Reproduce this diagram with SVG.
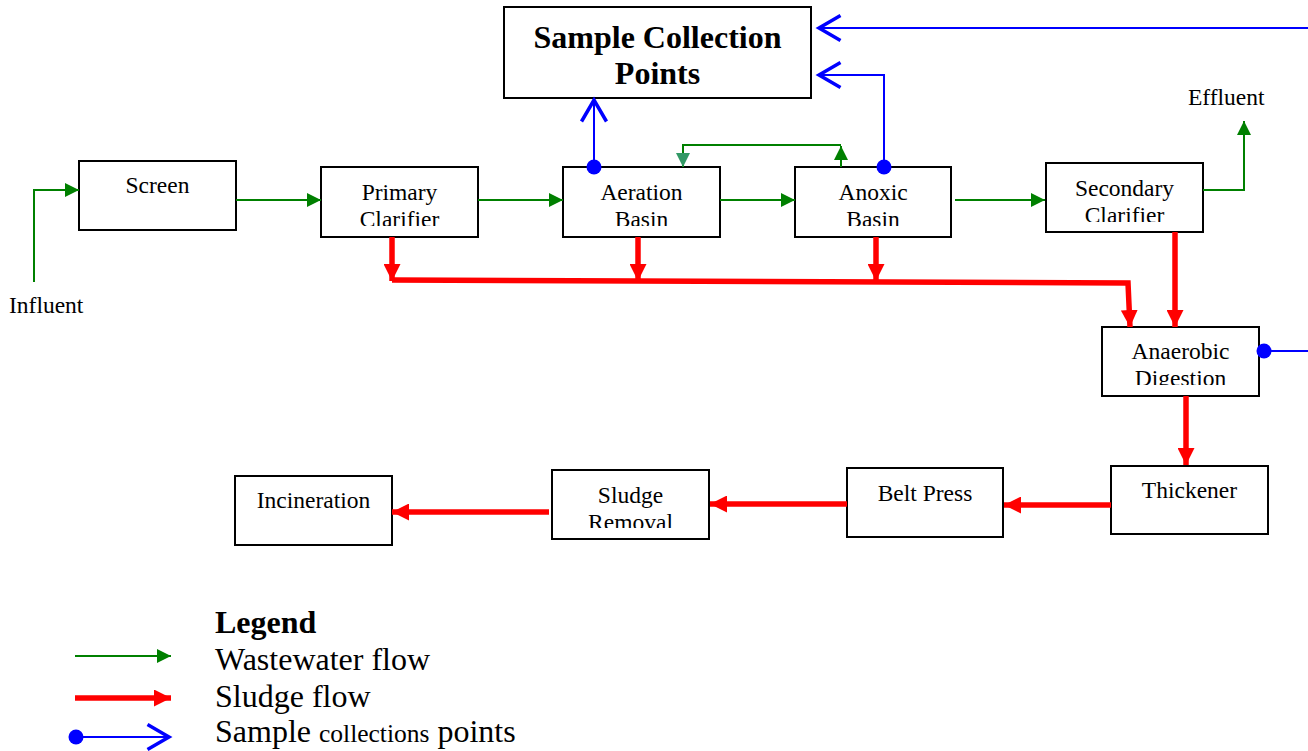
<svg xmlns="http://www.w3.org/2000/svg" width="1308" height="751" viewBox="0 0 1308 751">
  <style>
    .box { fill: #ffffff; stroke: #000000; stroke-width: 2; }
    .lbl { font-family: "Liberation Serif", "Times New Roman", serif; font-size: 23.5px; fill: #000000; text-anchor: middle; }
    .free { font-family: "Liberation Serif", "Times New Roman", serif; font-size: 23.5px; fill: #000000; }
    .title { font-family: "Liberation Serif", "Times New Roman", serif; font-size: 32px; font-weight: bold; fill: #000000; text-anchor: middle; }
    .leg { font-family: "Liberation Serif", "Times New Roman", serif; font-size: 32px; fill: #000000; }
    .water { fill: none; stroke: #008000; stroke-width: 2; }
    .sludge { fill: none; stroke: #ff0000; stroke-width: 5.5; }
    .sample { fill: none; stroke: #0000ff; stroke-width: 2; }
    .dot { fill: #0000ff; }
  </style>
  <defs>
    <marker id="wHead" viewBox="0 0 14 14" refX="14" refY="7" markerWidth="14" markerHeight="14" markerUnits="userSpaceOnUse" orient="auto">
      <path d="M0,0 L14,7 L0,14 Z" fill="#008000"/>
    </marker>
    <marker id="wHeadAlt" viewBox="0 0 14 14" refX="14" refY="7" markerWidth="14" markerHeight="14" markerUnits="userSpaceOnUse" orient="auto">
      <path d="M0,0 L14,7 L0,14 Z" fill="#339966"/>
    </marker>
    <marker id="sHead" viewBox="0 0 17 17" refX="17" refY="8.5" markerWidth="17" markerHeight="17" markerUnits="userSpaceOnUse" orient="auto">
      <path d="M0,0 L17,8.5 L0,17 Z" fill="#ff0000"/>
    </marker>
    <marker id="bHead" viewBox="0 0 26 28" refX="24" refY="14" markerWidth="26" markerHeight="28" markerUnits="userSpaceOnUse" orient="auto" overflow="visible">
      <path d="M1.5,1.5 L23,14 L1.5,26.5" fill="none" stroke="#0000ff" stroke-width="3.5" stroke-linejoin="miter" stroke-miterlimit="10"/>
    </marker>
    <clipPath id="clipPrimary"><rect x="321" y="167" width="157" height="59"/></clipPath>
    <clipPath id="clipAeration"><rect x="563" y="167" width="157" height="59"/></clipPath>
    <clipPath id="clipAnoxic"><rect x="795" y="167" width="156" height="59"/></clipPath>
    <clipPath id="clipSecondary"><rect x="1046" y="163" width="157" height="59"/></clipPath>
    <clipPath id="clipAnaerobic"><rect x="1102" y="327" width="157" height="58"/></clipPath>
    <clipPath id="clipRemoval"><rect x="552" y="470" width="157" height="58"/></clipPath>
  </defs>

  <!-- process units -->
  <g id="sample-points">
    <rect class="box" x="504" y="7" width="307" height="91"/>
    <text class="title" x="657.5" y="48">Sample Collection</text>
    <text class="title" x="657.5" y="84">Points</text>
  </g>
  <g id="screen">
    <rect class="box" x="79" y="161" width="157" height="69"/>
    <text class="lbl" x="157.5" y="193">Screen</text>
  </g>
  <g id="primary-clarifier">
    <rect class="box" x="321" y="167" width="157" height="70"/>
    <g clip-path="url(#clipPrimary)">
      <text class="lbl" x="399.5" y="200">Primary</text>
      <text class="lbl" x="399.5" y="227">Clarifier</text>
    </g>
  </g>
  <g id="aeration-basin">
    <rect class="box" x="563" y="167" width="157" height="70"/>
    <g clip-path="url(#clipAeration)">
      <text class="lbl" x="641.5" y="200">Aeration</text>
      <text class="lbl" x="641.5" y="227">Basin</text>
    </g>
  </g>
  <g id="anoxic-basin">
    <rect class="box" x="795" y="167" width="156" height="70"/>
    <g clip-path="url(#clipAnoxic)">
      <text class="lbl" x="873" y="200">Anoxic</text>
      <text class="lbl" x="873" y="227">Basin</text>
    </g>
  </g>
  <g id="secondary-clarifier">
    <rect class="box" x="1046" y="163" width="157" height="69"/>
    <g clip-path="url(#clipSecondary)">
      <text class="lbl" x="1124.5" y="196">Secondary</text>
      <text class="lbl" x="1124.5" y="223">Clarifier</text>
    </g>
  </g>
  <g id="anaerobic-digestion">
    <rect class="box" x="1102" y="327" width="157" height="69"/>
    <g clip-path="url(#clipAnaerobic)">
      <text class="lbl" x="1180.5" y="359">Anaerobic</text>
      <text class="lbl" x="1180.5" y="386">Digestion</text>
    </g>
  </g>
  <g id="thickener">
    <rect class="box" x="1111" y="466" width="157" height="68"/>
    <text class="lbl" x="1189.5" y="498">Thickener</text>
  </g>
  <g id="belt-press">
    <rect class="box" x="847" y="468" width="156" height="69"/>
    <text class="lbl" x="925" y="501">Belt Press</text>
  </g>
  <g id="sludge-removal">
    <rect class="box" x="552" y="470" width="157" height="69"/>
    <g clip-path="url(#clipRemoval)">
      <text class="lbl" x="630.5" y="503">Sludge</text>
      <text class="lbl" x="630.5" y="530">Removal</text>
    </g>
  </g>
  <g id="incineration">
    <rect class="box" x="235" y="476" width="157" height="69"/>
    <text class="lbl" x="313.5" y="508">Incineration</text>
  </g>

  <g id="terminals">
    <text class="free" x="9" y="313">Influent</text>
    <text class="free" x="1188" y="105">Effluent</text>
  </g>

  <!-- flows -->
  <g id="connectors">
    <!-- wastewater -->
    <polyline class="water" points="34,282 34,190 79,190" marker-end="url(#wHead)"/>
    <line class="water" x1="236" y1="200" x2="321" y2="200" marker-end="url(#wHead)"/>
    <line class="water" x1="478" y1="200" x2="563" y2="200" marker-end="url(#wHead)"/>
    <line class="water" x1="720" y1="200" x2="795" y2="200" marker-end="url(#wHead)"/>
    <line class="water" x1="955" y1="200" x2="1045" y2="200" marker-end="url(#wHead)"/>
    <polyline class="water" points="1203,190 1244,190 1244,121" marker-end="url(#wHead)"/>
    <!-- internal recycle -->
    <line class="water" x1="841" y1="167" x2="841" y2="146" marker-end="url(#wHead)"/>
    <polyline class="water" points="841,145 683,145 683,167" marker-end="url(#wHeadAlt)"/>

    <!-- sludge -->
    <line class="sludge" x1="392" y1="237" x2="392" y2="281" marker-end="url(#sHead)"/>
    <line class="sludge" x1="638" y1="237" x2="638" y2="281" marker-end="url(#sHead)"/>
    <line class="sludge" x1="876" y1="237" x2="876" y2="281" marker-end="url(#sHead)"/>
    <polyline class="sludge" points="392,280 1128,283 1130,327" marker-end="url(#sHead)" stroke-linejoin="miter"/>
    <line class="sludge" x1="1175" y1="232" x2="1175" y2="327" marker-end="url(#sHead)"/>
    <line class="sludge" x1="1186" y1="396" x2="1186" y2="465" marker-end="url(#sHead)"/>
    <line class="sludge" x1="1111" y1="505" x2="1004" y2="505" marker-end="url(#sHead)"/>
    <line class="sludge" x1="847" y1="504" x2="710" y2="504" marker-end="url(#sHead)"/>
    <line class="sludge" x1="549" y1="512" x2="392" y2="512" marker-end="url(#sHead)"/>

    <!-- sampling -->
    <line class="sample" x1="1308" y1="28" x2="818" y2="28" marker-end="url(#bHead)"/>
    <polyline class="sample" points="884,167 884,75 818,75" marker-end="url(#bHead)"/>
    <line class="sample" x1="594" y1="167" x2="594" y2="99" marker-end="url(#bHead)"/>
    <line class="sample" x1="1264" y1="351" x2="1308" y2="351"/>
    <circle class="dot" cx="594" cy="167" r="7.5"/>
    <circle class="dot" cx="884" cy="167" r="7.5"/>
    <circle class="dot" cx="1264" cy="351" r="7.5"/>
  </g>

  <!-- key -->
  <g id="legend">
    <text class="leg" x="215" y="633" font-weight="bold">Legend</text>
    <line class="water" x1="75" y1="656" x2="171" y2="656" marker-end="url(#wHead)"/>
    <text class="leg" x="215" y="670">Wastewater flow</text>
    <line class="sludge" x1="75" y1="698" x2="171" y2="698" stroke-width="7" marker-end="url(#sHead)"/>
    <text class="leg" x="215" y="707">Sludge flow</text>
    <line class="sample" x1="76" y1="737" x2="170" y2="737" marker-end="url(#bHead)"/>
    <circle class="dot" cx="76" cy="737" r="7.5"/>
    <text class="leg" x="215" y="742">Sample <tspan font-size="25.5px">collections</tspan> points</text>
  </g>
</svg>
